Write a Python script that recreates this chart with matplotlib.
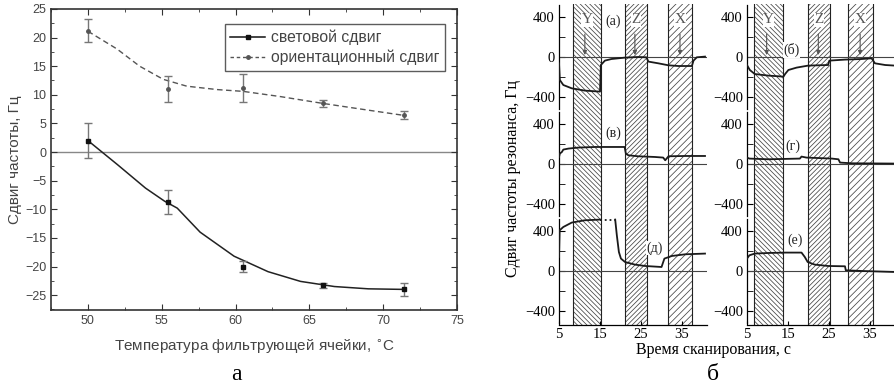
import numpy as np
import matplotlib.pyplot as plt
from matplotlib.ticker import MultipleLocator

plt.rcParams['hatch.linewidth'] = 0.55

# ---- панель а: данные ----
temp = [50.0, 55.4, 60.5, 65.9, 71.4]
light_shift = [2.0, -8.7, -20.0, -23.3, -24.0]
light_err = [3.0, 2.1, 1.0, 0.5, 1.1]
orient_shift = [21.2, 11.0, 11.2, 8.5, 6.4]
orient_err = [2.0, 2.2, 2.5, 0.6, 0.7]

# аппроксимирующие кривые
light_fit_t = [50.0, 52.0, 53.9, 55.2, 56.05, 57.6, 59.9, 62.2, 64.4, 66.7, 69.0, 71.4]
light_fit_v = [2.0, -2.2, -6.3, -8.6, -9.8, -14.0, -18.2, -20.9, -22.6, -23.5, -23.9, -24.0]
orient_fit_t = [50.0, 51.97, 53.5, 55.1, 56.7, 58.8, 60.5, 63.0, 65.9, 68.5, 71.4]
orient_fit_v = [21.1, 18.0, 15.0, 12.7, 11.5, 10.9, 10.6, 9.7, 8.5, 7.5, 6.4]

# ---- панель б: данные ----
col_bands = [
    {'Y': (8.4, 15.2), 'Z': (21.1, 26.5), 'X': (31.6, 37.4)},
    {'Y': (6.7, 13.8), 'Z': (19.9, 25.2), 'X': (29.6, 35.7)},
]
arrow_t = [[11.3, 23.5, 34.5], [9.8, 22.4, 32.6]]

a_t = [5.0, 5.2, 6.05, 8.1, 11.3, 15.0, 15.2, 16.2, 17.8, 21.1, 24.3, 26.3, 26.8,
       29.2, 31.7, 34.1, 37.4, 37.8, 38.6, 40.6]
a_v = [-60, -227, -277, -310, -333, -343, -77, -33, -17, -3, 3, 0, -43,
       -60, -80, -87, -87, -33, 0, 7]
b_t = [5.0, 5.7, 6.9, 10.2, 13.9, 14.3, 15.1, 17.1, 19.9, 24.8, 25.1, 28.9, 33.0,
       35.4, 36.2, 38.7, 41.1]
b_v = [-77, -127, -167, -183, -193, -167, -127, -103, -83, -77, -33, -23, -17,
       -10, -60, -77, -83]
v_t = [5.0, 5.2, 5.7, 6.05, 7.3, 9.7, 13.8, 17.9, 21.0, 21.3, 21.9, 24.3, 28.4,
       30.4, 30.9, 31.7, 35.8, 40.6]
v_v = [73, 107, 123, 147, 157, 167, 173, 173, 173, 107, 90, 80, 73,
       67, 40, 80, 83, 83]
g_t = [5.0, 5.6, 10.2, 17.9, 18.3, 19.5, 25.7, 27.3, 27.7, 30.5, 41.1]
g_v = [67, 57, 50, 57, 77, 67, 57, 50, 17, 10, 7]
d_t = [5.0, 5.15, 6.05, 8.1, 11.3, 15.0, 18.7, 19.1, 19.6, 20.1, 21.1, 23.5, 26.0,
       30.0, 30.7, 32.5, 35.8, 40.6]
d_v = [143, 410, 443, 487, 510, 517, 517, 360, 193, 127, 93, 67, 53,
       43, 127, 153, 170, 177]
e_t = [5.0, 5.6, 6.9, 10.2, 14.3, 18.3, 19.1, 19.8, 21.5, 24.8, 28.9, 29.1, 33.0, 41.1]
e_v = [127, 160, 177, 183, 187, 187, 143, 93, 67, 53, 50, 10, 3, -7]

traces = [[(a_t, a_v, '(а)', 18.2, 357), (b_t, b_v, '(б)', 15.9, 73)],
          [(v_t, v_v, '(в)', 18.2, 307), (g_t, g_v, '(г)', 16.3, 183)],
          [(d_t, d_v, '(д)', 28.4, 233), (e_t, e_v, '(е)', 16.7, 310)]]

fig = plt.figure(figsize=(8.95, 3.88), dpi=100)

# ================= панель а =================
grey = '#444444'
ax = fig.add_axes([0.057, 0.201, 0.4536, 0.776])
ax.axhline(0, color='#888888', lw=1.0, zorder=1)
ax.plot(light_fit_t, light_fit_v, color='#222222', lw=1.1, zorder=2)
ax.plot(orient_fit_t, orient_fit_v, color='#555555', lw=1.0, ls=(0, (4, 2.5)), zorder=2)
ax.errorbar(temp, light_shift, yerr=light_err, fmt='s', ms=3, color='#111111',
            ecolor='#777777', elinewidth=1.0, capsize=3, capthick=1.0, zorder=3)
ax.errorbar(temp, orient_shift, yerr=orient_err, fmt='o', ms=2.5, color='#555555',
            ecolor='#777777', elinewidth=1.0, capsize=3, capthick=1.0, zorder=3)
h1, = ax.plot([], [], color='#111111', lw=1.1, marker='s', ms=3)
h2, = ax.plot([], [], color='#555555', lw=1.0, ls=(0, (2.5, 2)), marker='o', ms=2.5)
leg = ax.legend([h1, h2], ['световой сдвиг', 'ориентационный сдвиг'], loc='upper right',
                bbox_to_anchor=(0.99, 0.975), handlelength=2.2,
                frameon=True, fancybox=False, borderpad=0.35, labelspacing=0.3,
                handletextpad=0.4, prop={'family': 'Liberation Sans', 'size': 11.3})
leg.get_frame().set_edgecolor('#333333')
leg.get_frame().set_linewidth(1.0)
for t in leg.get_texts():
    t.set_color(grey)
ax.set_xlim(47.5, 75)
ax.set_ylim(-27.6, 25)
ax.xaxis.set_major_locator(MultipleLocator(5))
ax.xaxis.set_minor_locator(MultipleLocator(2.5))
ax.yaxis.set_major_locator(MultipleLocator(5))
ax.yaxis.set_minor_locator(MultipleLocator(2.5))
ax.tick_params(which='both', direction='in', top=True, right=True, labelsize=9,
               labelcolor=grey, color='#333333')
ax.tick_params(which='major', length=4)
ax.tick_params(which='minor', length=2)
for lab in ax.get_xticklabels() + ax.get_yticklabels():
    lab.set_family('Liberation Sans')
for s in ax.spines.values():
    s.set_linewidth(1.2)
    s.set_color('#333333')
ax.set_xlabel('Температура фильтрующей ячейки, $^{\\circ}$C', fontsize=11,
              color=grey, family='Liberation Sans', labelpad=8)
ax.set_ylabel('Сдвиг частоты, Гц', fontsize=11, color=grey, family='Liberation Sans',
              labelpad=2)

# ================= панель б =================
hatches = {'Y': '\\' * 7, 'Z': '/' * 7, 'X': '/' * 5}
col_left = [0.6246, 0.8346]
row_bottom = [0.7144, 0.4387, 0.1629]
for r in range(3):
    for c in range(2):
        axr = fig.add_axes([col_left[c], row_bottom[r], 0.1654, 0.2758])
        axr.set_xlim(5, 41.1)
        axr.set_ylim(-535, 535)
        for name, (t0, t1) in col_bands[c].items():
            axr.axvspan(t0, t1, facecolor='white', edgecolor='#444444', hatch=hatches[name],
                        lw=0, zorder=1)
            axr.axvline(t0, color='#222222', lw=0.8, zorder=1)
            axr.axvline(t1, color='#222222', lw=0.8, zorder=1)
        axr.axhline(0, color='#444444', lw=0.8, zorder=2)
        tt, vv, lab, lx, ly = traces[r][c]
        if lab == '(д)':
            axr.plot(tt[:6], vv[:6], color='#1a1a1a', lw=1.3, zorder=3)
            axr.plot(tt[5:7], vv[5:7], color='#1a1a1a', lw=1.3, ls=':', zorder=3)
            axr.plot(tt[6:], vv[6:], color='#1a1a1a', lw=1.3, zorder=3)
        else:
            axr.plot(tt, vv, color='#1a1a1a', lw=1.3, zorder=3)
        axr.text(lx, ly, lab, fontsize=10, family='Liberation Serif', ha='center',
                 va='center', color='#222222', zorder=5,
                 bbox=dict(facecolor='white', edgecolor='none', pad=0.5))
        if r == 0:
            for name, (t0, t1) in col_bands[c].items():
                axr.text((t0 + t1) / 2, 375, name, fontsize=11, family='Liberation Serif',
                         ha='center', va='center', color='#555555', zorder=5,
                         bbox=dict(facecolor='white', edgecolor='none', pad=0.3))
            for at in arrow_t[c]:
                axr.annotate('', xy=(at, -5), xytext=(at, 260),
                             arrowprops=dict(arrowstyle='-|>', color='#555555', lw=0.8,
                                             mutation_scale=6), zorder=4)
        axr.set_yticks([-400, 0, 400])
        axr.set_yticks([-200, 200], minor=True)
        axr.set_yticklabels(['\u2212400', '0', '400'])
        axr.spines['top'].set_visible(False)
        axr.spines['right'].set_visible(False)
        axr.spines['left'].set_bounds(-520, 520)
        axr.spines['left'].set_linewidth(0.9)
        axr.tick_params(axis='y', which='both', direction='in', labelsize=10.5, length=4,
                        pad=3)
        for l in axr.get_yticklabels():
            l.set_family('Liberation Serif')
        axr.patch.set_alpha(0)
        if r == 2:
            axr.set_xticks([5, 15, 25, 35])
            axr.tick_params(axis='x', direction='in', labelsize=10.5, length=3, pad=2)
            for l in axr.get_xticklabels():
                l.set_family('Liberation Serif')
            axr.spines['bottom'].set_linewidth(0.9)
        else:
            axr.spines['bottom'].set_visible(False)
            axr.set_xticks([])

fig.text(0.573, 0.541, 'Сдвиг частоты резонанса, Гц', rotation=90, ha='center',
         va='center', fontsize=11.5, family='Liberation Serif')
fig.text(0.797, 0.097, 'Время сканирования, с', ha='center', va='center',
         fontsize=11.5, family='Liberation Serif')
fig.text(0.264, 0.035, 'а', ha='center', va='center', fontsize=17,
         family='Liberation Serif')
fig.text(0.797, 0.035, 'б', ha='center', va='center', fontsize=17,
         family='Liberation Serif')

fig.savefig('out.png', dpi=100)
